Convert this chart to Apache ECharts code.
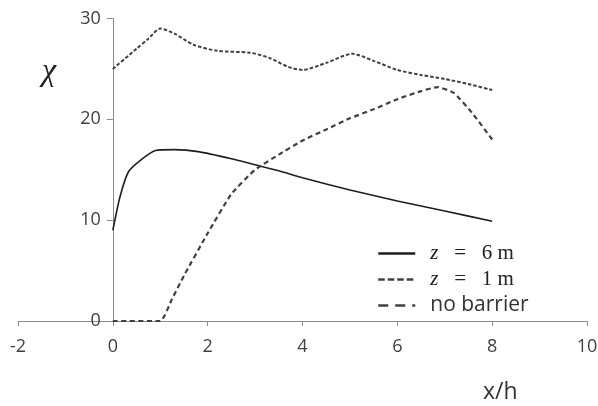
<!DOCTYPE html>
<html>
<head>
<meta charset="utf-8">
<script src="https://cdn.jsdelivr.net/npm/echarts@6/dist/echarts.min.js"></script>
<style>html,body{margin:0;padding:0;background:#fff;}#c{width:598px;height:406px;}</style>
</head>
<body>
<div id="c"></div>
<script>
// x/h ticks
var xTicks = [-2, 0, 2, 4, 6, 8, 10];
var yTicks = [0, 10, 20, 30];
var seriesNames = ['z = 6 m', 'z = 1 m', 'no barrier'];

// z = 6 m (solid)
var z6X = [0, 0.15, 0.33, 0.6, 0.9, 1.3, 1.8, 2.5, 3, 3.5, 4, 5, 6, 7, 8];
var z6Y = [9.0, 12.3, 14.8, 16.0, 16.9, 17.0, 16.8, 16.1, 15.5, 14.9, 14.2, 13.0, 11.9, 10.9, 9.9];

// z = 1 m (short dash)
var z1X = [0, 0.5, 0.75, 1, 1.3, 1.7, 2.2, 2.9, 3.3, 3.7, 4, 4.5, 5.05, 5.5, 6, 6.5, 7, 7.5, 8];
var z1Y = [25.0, 27.0, 28.0, 29.0, 28.5, 27.4, 26.8, 26.6, 26.1, 25.2, 24.9, 25.6, 26.5, 25.8, 24.9, 24.4, 24.0, 23.5, 22.9];

// no barrier (long dash)
var nbX = [0, 1, 1.25, 1.5, 2, 2.5, 3, 3.5, 4, 4.5, 5, 5.5, 6, 6.5, 6.85, 7.2, 7.6, 8];
var nbY = [0, 0, 2.2, 4.5, 8.7, 12.6, 15.0, 16.5, 17.9, 19.0, 20.1, 21.0, 22.0, 22.8, 23.2, 22.6, 20.5, 18.0];

function zip(xs, ys) { return xs.map(function (x, i) { return [x, ys[i]]; }); }

var chart = echarts.init(document.getElementById('c'), null, {renderer: 'canvas'});
var axisColor = '#8a8a8a';
var textColor = '#404040';
var sans = '"Open Sans", sans-serif';
var serif = '"Liberation Serif", serif';
var gridLeft = 18, gridRight = 11;
var plotW = 598 - gridLeft - gridRight;
// shift the y axis to x = 0 inside the grid
var yAxisOffset = -plotW * (0 - xTicks[0]) / (xTicks[xTicks.length - 1] - xTicks[0]);

chart.setOption({
  animation: false,
  backgroundColor: '#fff',
  grid: {left: gridLeft, right: gridRight, top: 18.5, bottom: 85, containLabel: false, outerBoundsMode: 'none'},
  xAxis: {
    type: 'value', min: xTicks[0], max: xTicks[xTicks.length - 1], interval: 2,
    splitLine: {show: false},
    axisLine: {show: true, onZero: false, lineStyle: {color: axisColor, width: 1}},
    axisTick: {show: true, length: 5, lineStyle: {color: axisColor}},
    axisLabel: {color: textColor, fontFamily: sans, fontSize: 18, margin: 17}
  },
  yAxis: {
    type: 'value', min: yTicks[0], max: yTicks[yTicks.length - 1], interval: 10,
    offset: yAxisOffset,
    splitLine: {show: false},
    axisLine: {show: true, onZero: false, lineStyle: {color: axisColor, width: 1}},
    axisTick: {show: true, length: 6, lineStyle: {color: axisColor}},
    axisLabel: {color: textColor, fontFamily: sans, fontSize: 18, margin: 12}
  },
  legend: {
    orient: 'vertical', left: 372, top: 238, itemWidth: 37, itemHeight: 14, itemGap: 5,
    data: [
      {name: seriesNames[0], lineStyle: {width: 2.5}},
      {name: seriesNames[1], lineStyle: {width: 2.5, type: [6.5, 3]}},
      {name: seriesNames[2], lineStyle: {width: 2.5, type: [10, 7]}}
    ],
    itemStyle: {opacity: 0},
    formatter: function (n) {
      if (n === 'no barrier') return '{s|no barrier}';
      return '{i|z}{m|   =   ' + n.split('= ')[1] + '}';
    },
    textStyle: {
      color: '#222', padding: [0, 0, 0, 10],
      rich: {
        i: {fontFamily: serif, fontStyle: 'italic', fontSize: 21, color: '#222', lineHeight: 21},
        m: {fontFamily: serif, fontSize: 21, color: '#222', lineHeight: 21},
        s: {fontFamily: sans, fontSize: 21, color: '#333', lineHeight: 21}
      }
    }
  },
  graphic: [
    {type: 'text', left: 42, top: 56, style: {text: 'χ', font: 'italic 32px "Liberation Serif", serif', fill: '#222'}},
    {type: 'text', left: 483, top: 381, style: {text: 'x/h', font: '23px "Open Sans", sans-serif', fill: '#333'}}
  ],
  series: [
    {name: seriesNames[0], type: 'line', data: zip(z6X, z6Y), symbol: 'none', smooth: 0.2,
     lineStyle: {color: '#1e1e1e', width: 1.6, type: 'solid'}, itemStyle: {color: '#1e1e1e'}},
    {name: seriesNames[1], type: 'line', data: zip(z1X, z1Y), symbol: 'none', smooth: 0.25,
     lineStyle: {color: '#404040', width: 2, type: [3.5, 2]}, itemStyle: {color: '#404040'}},
    {name: seriesNames[2], type: 'line', data: zip(nbX, nbY), symbol: 'none', smooth: 0.15,
     lineStyle: {color: '#404040', width: 2.2, type: [5, 3.5]}, itemStyle: {color: '#404040'}}
  ]
});
</script>
</body>
</html>
